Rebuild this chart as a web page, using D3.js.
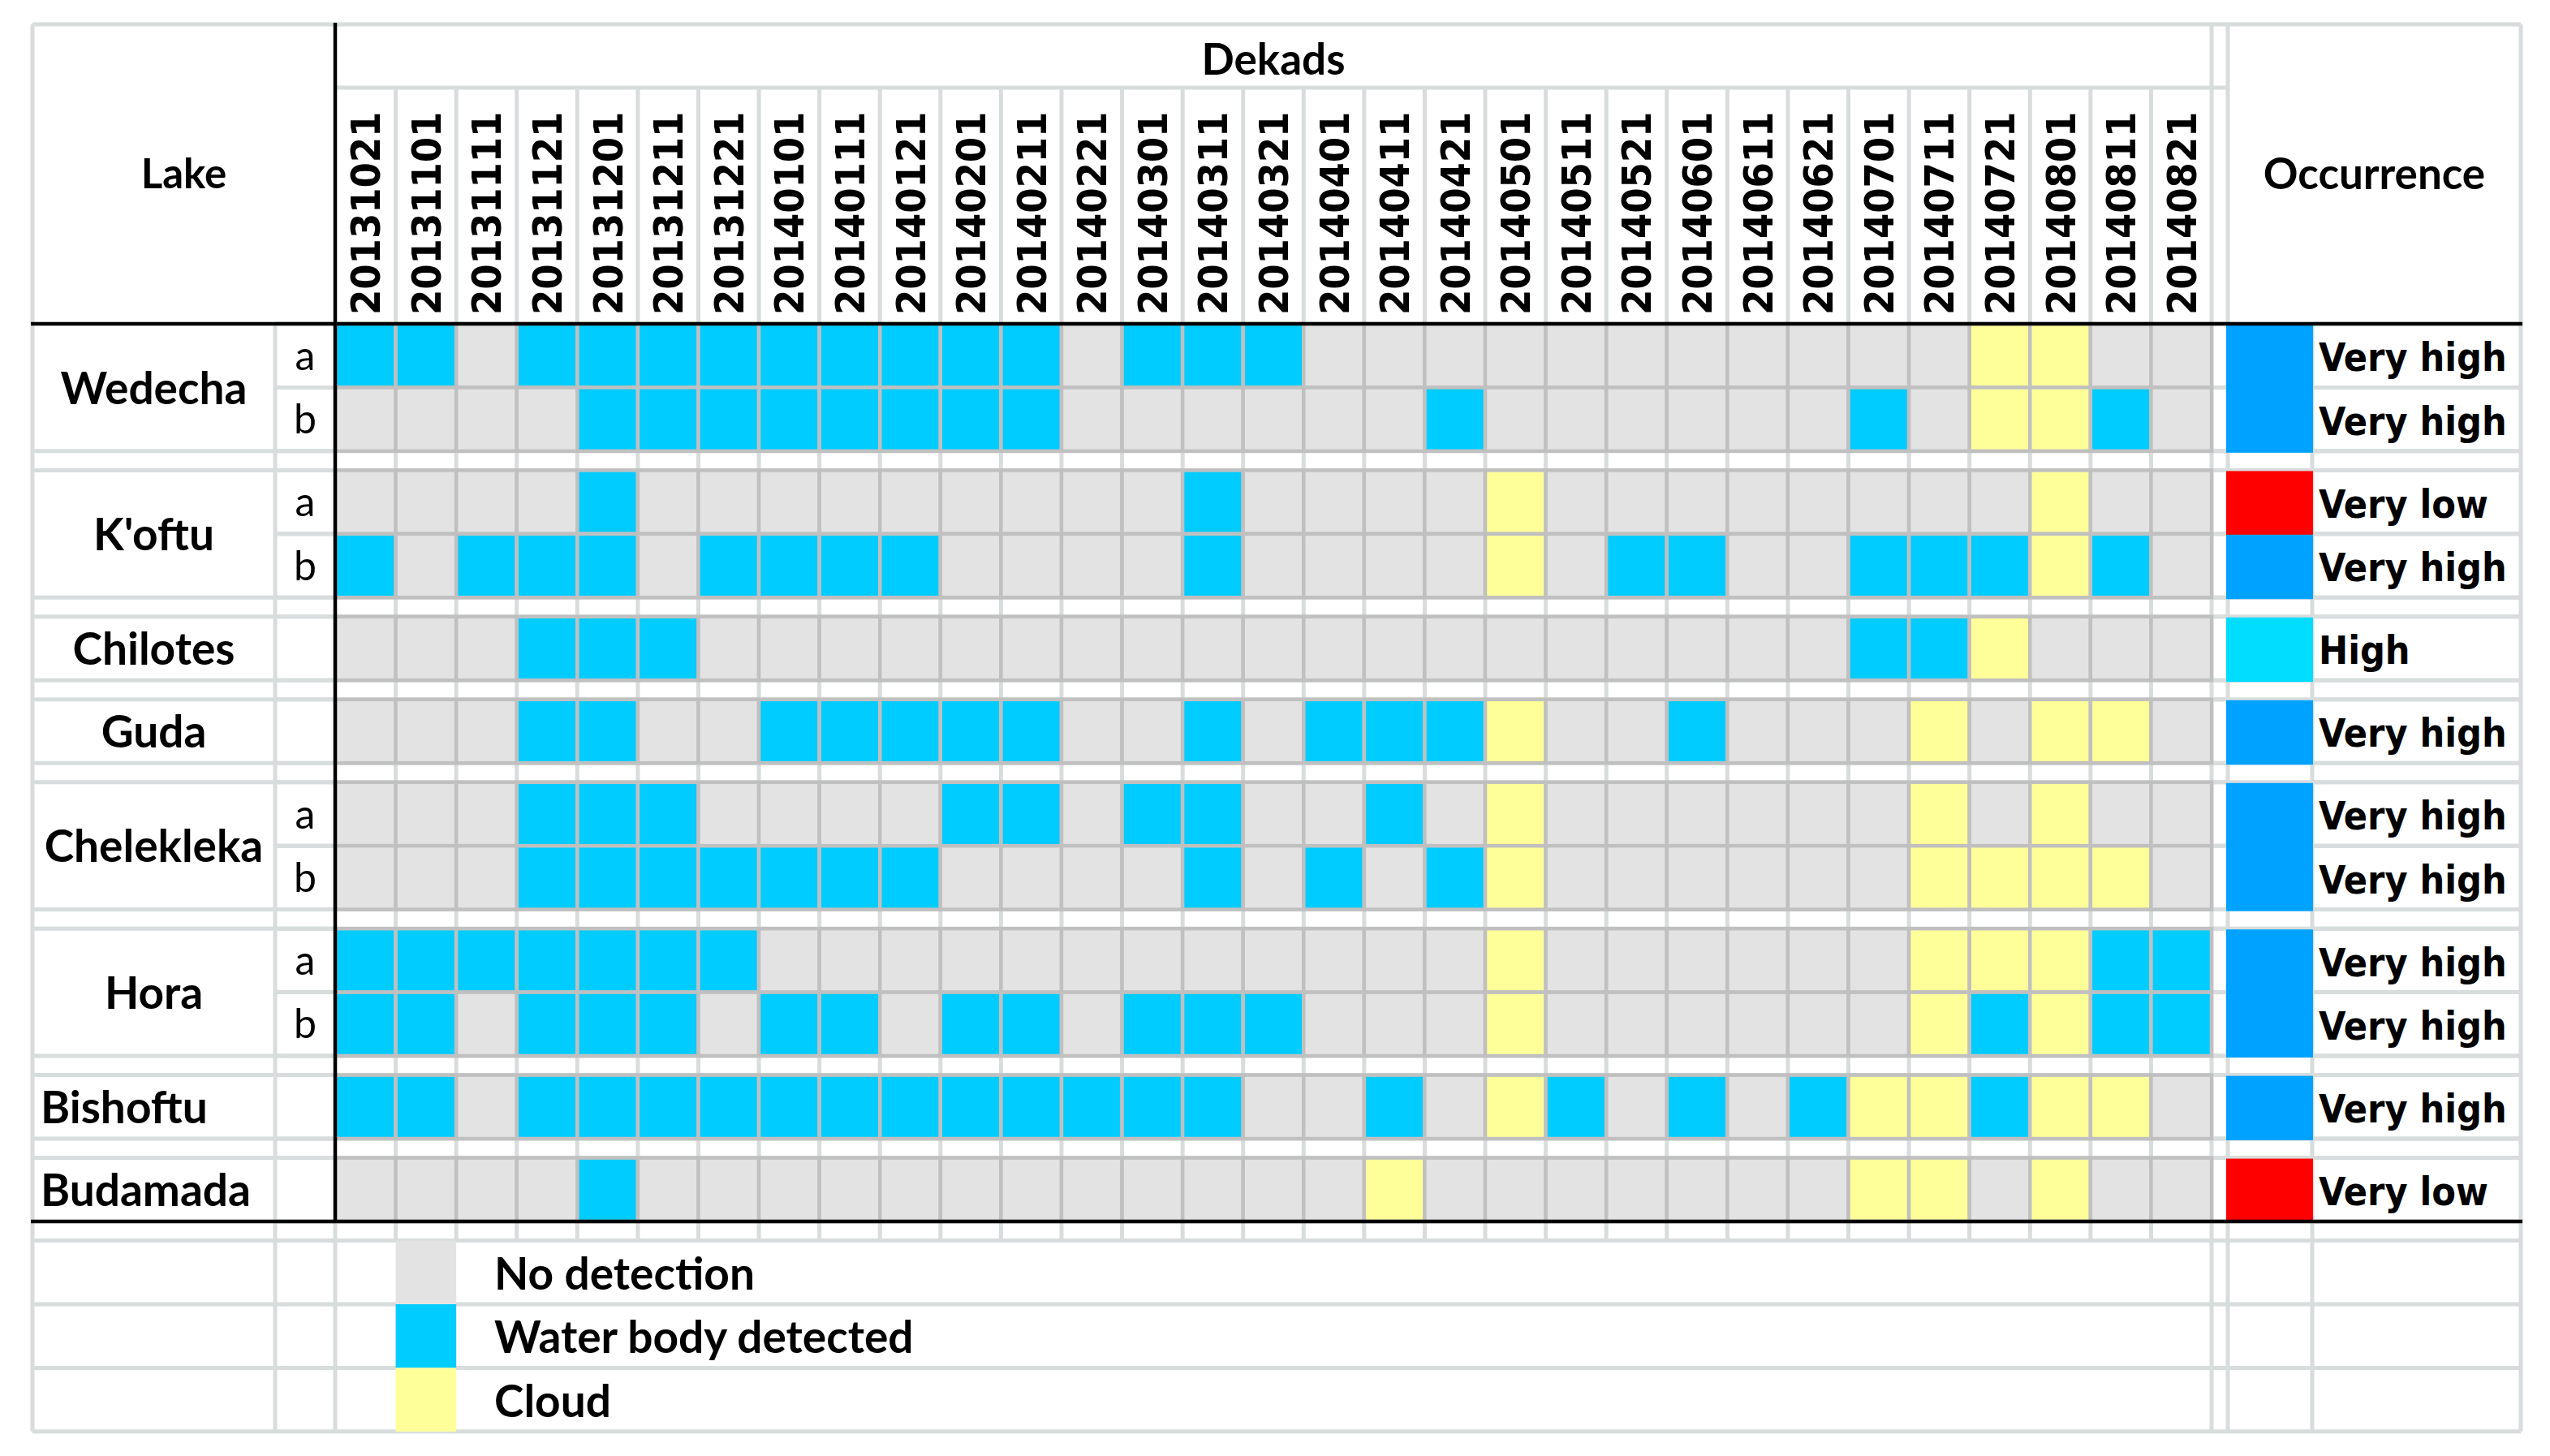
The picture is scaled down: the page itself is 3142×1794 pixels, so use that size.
<!DOCTYPE html>
<html><head><meta charset="utf-8">
<script src="https://cdn.jsdelivr.net/npm/d3@7"></script>
<style>body{margin:0;background:#fff}</style>
</head><body>
<svg id="chart" width="3142" height="1794"></svg>
<script>
// ---------- data ----------
const dekads = ["20131021","20131101","20131111","20131121","20131201","20131211","20131221",
  "20140101","20140111","20140121","20140201","20140211","20140221","20140301","20140311","20140321",
  "20140401","20140411","20140421","20140501","20140511","20140521","20140601","20140611","20140621",
  "20140701","20140711","20140721","20140801","20140811","20140821"];
const lakes = ["Wedecha","K'oftu","Chilotes","Guda","Chelekleka","Hora","Bishoftu","Budamada"];
// one entry per table row (C = water body detected, G = no detection, Y = cloud)
const rowLake = ["Wedecha","Wedecha","K'oftu","K'oftu","Chilotes","Guda","Chelekleka","Chelekleka","Hora","Hora","Bishoftu","Budamada"];
const rowSub  = ["a","b","a","b","","","a","b","a","b","",""];
const rowStates = [
  "CCGCCCCCCCCCGCCCGGGGGGGGGGGYYGG",
  "GGGGCCCCCCCCGGGGGGCGGGGGGCGYYCG",
  "GGGGCGGGGGGGGGCGGGGYGGGGGGGGYGG",
  "CGCCCGCCCCGGGGCGGGGYGCCGGCCCYCG",
  "GGGCCCGGGGGGGGGGGGGGGGGGGCCYGGG",
  "GGGCCGGCCCCCGGCGCCCYGGCGGGYGYYG",
  "GGGCCCGGGGCCGCCGGCGYGGGGGGYGYGG",
  "GGGCCCCCCCGGGGCGCGCYGGGGGGYYYYG",
  "CCCCCCCGGGGGGGGGGGGYGGGGGGYYYCC",
  "CCGCCCGCCGCCGCCCGGGYGGGGGGYCYCC",
  "CCGCCCCCCCCCCCCGGCGYCGCGCYYCYYG",
  "GGGGCGGGGGGGGGGGGYGGGGGGGYYGYGG"
];
const occurrence = ["Very high","Very high","Very low","Very high","High","Very high",
  "Very high","Very high","Very high","Very high","Very high","Very low"];
const stateCodes = ["G","C","Y"];
const legendLabels = ["No detection","Water body detected","Cloud"];
const occurrenceLevels = ["Very high","High","Very low"];

// ---------- styles ----------
const stateColor = d3.scaleOrdinal().domain(stateCodes).range(["#e3e3e3","#00ccff","#ffff99"]);
const occColor = d3.scaleOrdinal().domain(occurrenceLevels).range(["#00a2ff","#00ddff","#ff0000"]);
const LIGHT = "#d8dcdc", CELLLINE = "#c0c0c0";
const CAL = "Lato, 'Open Sans', sans-serif";
const WIDE = "'DejaVu Sans Condensed', 'DejaVu Sans', sans-serif";

// ---------- layout ----------
const X0 = 40, XSUB = 339, XDATA = 413, XDATAEND = 2725, XOCC = 2745, XOCCTXT = 2849, X1 = 3106;
const Y0 = 30, YHEAD = 108, YBODY = 399, ROWH = 78.4, GAPH = 23.6;

const x = d3.scaleBand().domain(dekads).range([XDATA, XDATAEND]).padding(0);
const bw = x.bandwidth();

// rows & gaps
const rows = [], gaps = [], groups = [];
let yy = YBODY;
lakes.forEach((lake, gi) => {
  if (gi > 0) { gaps.push({y0: yy, y1: yy + GAPH}); yy += GAPH; }
  const start = yy;
  rowLake.forEach((l, i) => {
    if (l === lake) { rows.push({i, lake, sub: rowSub[i], states: rowStates[i], occ: occurrence[i], y0: yy, y1: yy + ROWH}); yy += ROWH; }
  });
  groups.push({lake, y0: start, y1: yy});
});
const YEND = yy;
const legendRows = legendLabels.map((lab, i) => ({lab, code: stateCodes[i],
  y0: YEND + GAPH + i * ROWH, y1: YEND + GAPH + (i + 1) * ROWH}));
const YBOT = legendRows[legendRows.length - 1].y1;

const svg = d3.select("#chart");
svg.append("rect").attr("width", 3142).attr("height", 1794).attr("fill", "#fff");

// ---------- light grid ----------
const grid = svg.append("g").attr("stroke", LIGHT).attr("stroke-width", 5).attr("fill", "none");
function hl(xa, xb, y) { grid.append("line").attr("x1", xa).attr("x2", xb).attr("y1", y).attr("y2", y); }
function vl(x0, ya, yb) { grid.append("line").attr("x1", x0).attr("x2", x0).attr("y1", ya).attr("y2", yb); }

hl(X0, X1, Y0);
hl(XDATA, XOCC, YHEAD);
gaps.forEach(g => { hl(X0, X1, g.y0); hl(X0, X1, g.y1); });
rows.forEach(r => {
  hl(XSUB, XDATA, r.y1);
  hl(XDATAEND, XOCC, r.y1);
  hl(XOCCTXT, X1, r.y1);
  hl(XSUB, XDATA, r.y0);
  hl(XDATAEND, XOCC, r.y0);
  hl(XOCCTXT, X1, r.y0);
});
hl(X0, X1, YEND + GAPH);
legendRows.forEach(r => hl(X0, X1, r.y1));

vl(X0, Y0, YBOT); vl(X1, Y0, YBOT);
vl(XSUB, YBODY, YBOT);
vl(XDATA, YEND, YBOT);
dekads.slice(1).forEach(d => vl(x(d), YHEAD, YEND + GAPH));
vl(XDATAEND, Y0, YBOT); vl(XOCC, Y0, YBOT); vl(XOCCTXT, YBODY, YBOT);

// ---------- data cells ----------
const cells = [];
rows.forEach(r => dekads.forEach((d, j) => cells.push({d, r, s: r.states[j]})));
svg.append("g").selectAll("rect").data(cells).join("rect")
  .attr("x", c => x(c.d)).attr("y", c => c.r.y0)
  .attr("width", bw).attr("height", ROWH)
  .attr("fill", c => stateColor(c.s))
  .attr("stroke", CELLLINE).attr("stroke-width", 4.5);

// ---------- occurrence swatches (merged within a lake when equal) ----------
const occBlocks = [];
rows.forEach((r, k) => {
  const last = occBlocks[occBlocks.length - 1];
  if (last && last.lake === r.lake && last.occ === r.occ) last.y1 = r.y1;
  else occBlocks.push({lake: r.lake, occ: r.occ, y0: r.y0, y1: r.y1});
});
svg.append("g").selectAll("rect").data(occBlocks).join("rect")
  .attr("x", XOCC - 2).attr("y", b => b.y0 + 1).attr("width", XOCCTXT - XOCC + 3)
  .attr("height", b => b.y1 - b.y0 + 1).attr("fill", b => occColor(b.occ));

// ---------- legend swatches ----------
const swX = x(dekads[1]);
svg.append("g").selectAll("rect").data(legendRows).join("rect")
  .attr("x", swX).attr("y", r => r.y0).attr("width", bw).attr("height", r => r.y1 - r.y0)
  .attr("fill", r => stateColor(r.code));

// ---------- black lines ----------
const blk = svg.append("g").attr("stroke", "#000").attr("stroke-width", 4.5);
blk.append("line").attr("x1", XDATA).attr("x2", XDATA).attr("y1", Y0 - 2).attr("y2", YEND + 2);
blk.append("line").attr("x1", X0 - 2).attr("x2", X1 + 2).attr("y1", YBODY).attr("y2", YBODY);
blk.append("line").attr("x1", X0 - 2).attr("x2", X1 + 2).attr("y1", YEND).attr("y2", YEND);

// ---------- texts ----------
const t = svg.append("g").attr("fill", "#000");
t.append("text").text("Lake").attr("x", (X0 + XDATA) / 2).attr("y", (Y0 + YBODY) / 2)
  .attr("dy", "0.35em").attr("text-anchor", "middle")
  .style("font", `bold 51px ${CAL}`);
t.append("text").text("Dekads").attr("x", (XDATA + XDATAEND) / 2).attr("y", 73)
  .attr("dy", "0.35em").attr("text-anchor", "middle")
  .style("font", `bold 53px ${CAL}`);
t.append("text").text("Occurrence").attr("x", (XOCC + X1) / 2).attr("y", (Y0 + YBODY) / 2)
  .attr("dy", "0.35em").attr("text-anchor", "middle")
  .style("font", `bold 53px ${CAL}`);

t.append("g").selectAll("text").data(dekads).join("text")
  .text(d => d)
  .attr("transform", d => `translate(${x(d) + bw / 2},388) rotate(-90)`)
  .attr("dy", "0.36em").attr("text-anchor", "start")
  .style("font-family", WIDE).style("font-weight", "bold").style("font-stretch", "condensed")
  .style("font-size", "50px");

const leftAligned = new Set(["Bishoftu", "Budamada"]);
t.append("g").selectAll("text").data(groups).join("text")
  .text(g => g.lake)
  .attr("x", g => leftAligned.has(g.lake) ? X0 + 10 : (X0 + XSUB) / 2)
  .attr("text-anchor", g => leftAligned.has(g.lake) ? "start" : "middle")
  .attr("y", g => (g.y0 + g.y1) / 2 + 1).attr("dy", "0.35em")
  .style("font", `bold 55px ${CAL}`);

t.append("g").selectAll("text").data(rows.filter(r => r.sub)).join("text")
  .text(r => r.sub).attr("x", (XSUB + XDATA) / 2).attr("y", r => (r.y0 + r.y1) / 2)
  .attr("dy", "0.35em").attr("text-anchor", "middle")
  .style("font", `normal 50px ${CAL}`);

t.append("g").selectAll("text").data(rows).join("text")
  .text(r => r.occ).attr("x", XOCCTXT + 8).attr("y", r => (r.y0 + r.y1) / 2 + 2)
  .attr("dy", "0.36em")
  .style("font-family", WIDE).style("font-weight", "bold").style("font-stretch", "condensed")
  .style("font-size", "48px");

t.append("g").selectAll("text").data(legendRows).join("text")
  .text(r => r.lab).attr("x", 609).attr("y", r => (r.y0 + r.y1) / 2 + 2)
  .attr("dy", "0.35em")
  .style("font", `bold 55px ${CAL}`);
</script>
</body></html>
